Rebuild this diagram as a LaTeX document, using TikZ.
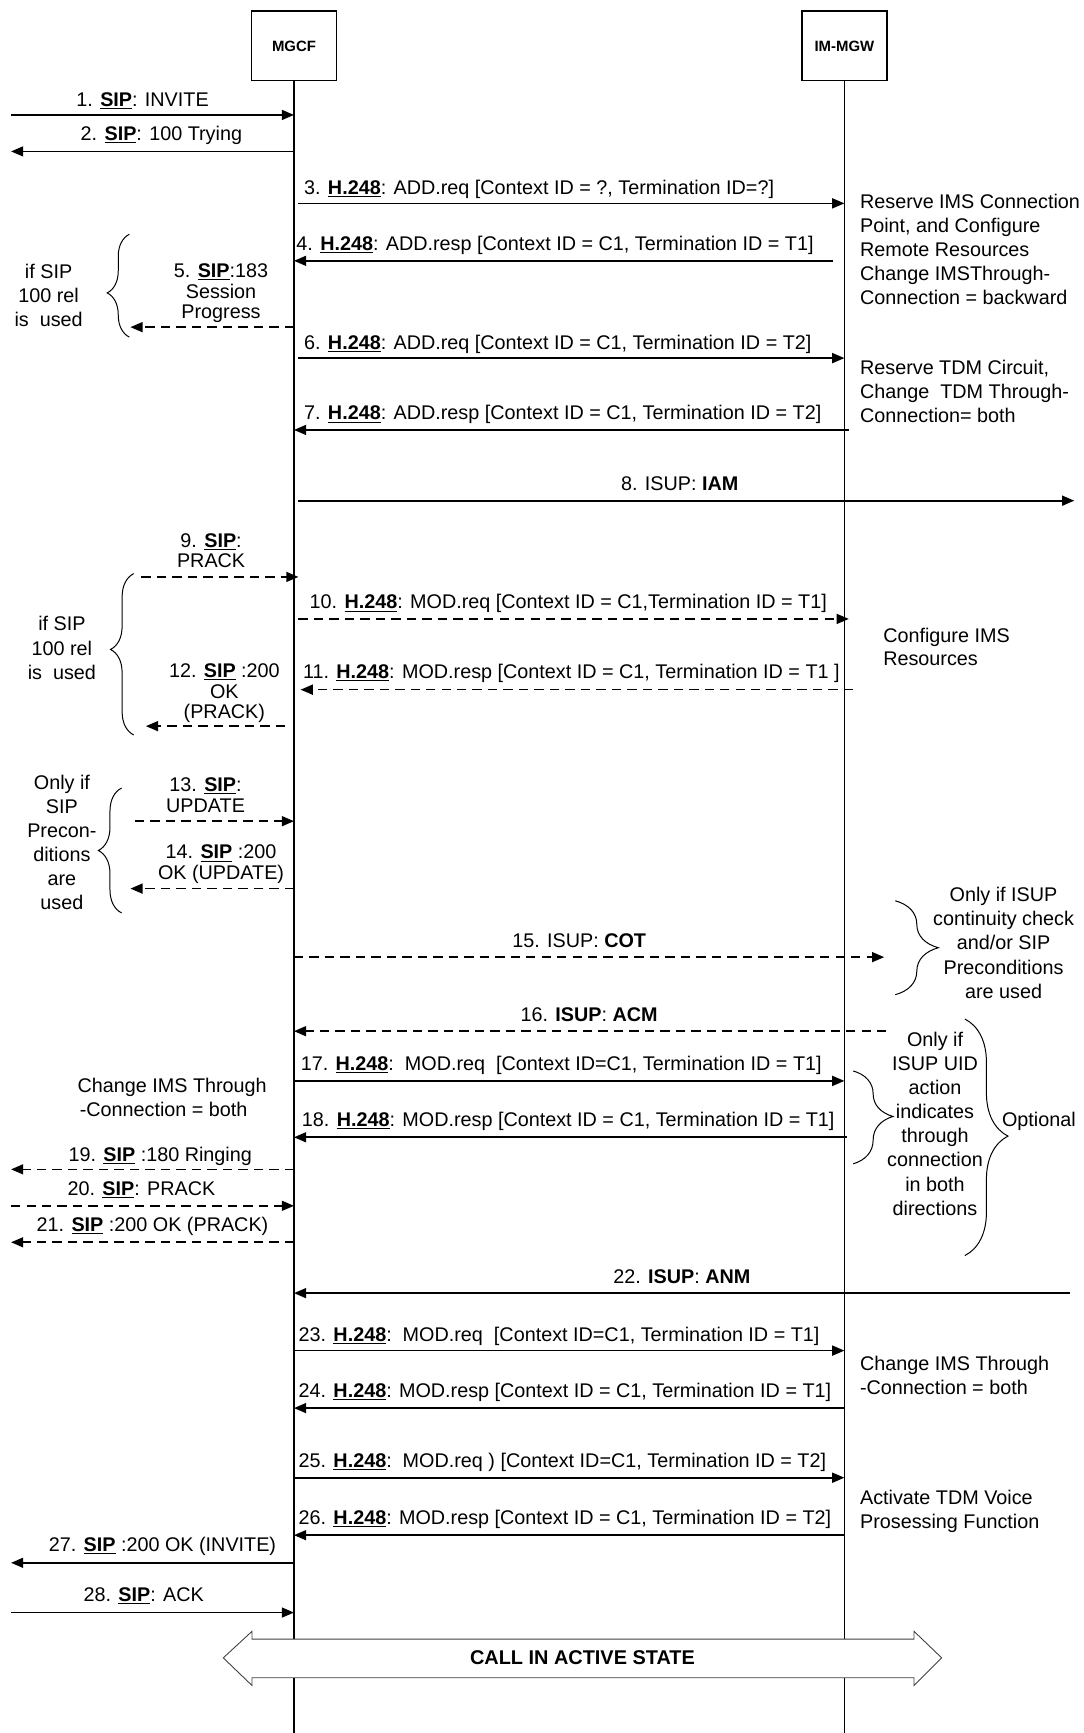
\documentclass[tikz,border=0pt]{standalone}
\usepackage{fontspec}
\setmainfont{Liberation Sans}
\usetikzlibrary{arrows.meta,decorations.pathreplacing}
\newcommand{\usip}{\underline{\textbf{SIP}}}
\newcommand{\uhh}{\underline{\textbf{H.248}}}
\begin{document}
\begin{tikzpicture}[x=1pt,y=-1pt,
  every node/.style={inner sep=0pt, font=\fontsize{17.9}{18.5}\selectfont},
  box/.style={draw, line width=1.4pt, minimum width=77pt, minimum height=63pt, font=\fontsize{13.5}{15}\selectfont\bfseries},
  life/.style={line width=1.6pt},
  msg/.style={line width=1.5pt, -{Triangle[length=11pt,width=9pt]}},
  dmsg/.style={msg, dash pattern=on 8.5pt off 5.5pt},
  lbl/.style={align=center, anchor=north},
  hlbl/.style={anchor=base west},
  clbl/.style={anchor=base},
  note/.style={align=left, anchor=north west, font=\fontsize{17.9}{21.7}\selectfont},
  cnote/.style={align=center, anchor=north, font=\fontsize{17.9}{21.8}\selectfont},
  brc/.style={decorate, line width=0.9pt},
]
\useasboundingbox (0,0) rectangle (980,1568);
\fill[white] (0,0) rectangle (980,1568);

% entities
\node[box] (mgcf) at (266,41.5) {MGCF};
\node[box] (mgw) at (764,41.5) {IM-MGW};
\draw[life] (mgcf.south) -- (mgcf.south |- 0,1568);
\draw[life] (mgw.south) -- (mgw.south |- 0,1568);

% 1
\coordinate (e1) at (10,104);
\draw[msg] (e1) -- (mgcf |- e1);
\node[clbl] (t1) at (129,96) {1. \usip: INVITE};
% 2
\coordinate (e2) at (10,137);
\draw[msg] (mgcf |- e2) -- (e2);
\node[clbl] (t2) at (146,127) {2. \usip: 100 Trying};
% 3
\coordinate (s3) at (270,184);
\draw[msg] (s3) -- (mgw |- s3);
\node[hlbl] (t3) at (275,176) {3. \uhh: ADD.req [Context ID = ?, Termination ID=?]};
% 4
\coordinate (s4) at (754,236);
\draw[msg] (s4) -- (mgcf |- s4);
\node[hlbl] (t4) at (268,227) {4. \uhh: ADD.resp [Context ID = C1, Termination ID = T1]};
% 5
\coordinate (e5) at (118,296);
\draw[dmsg] (mgcf |- e5) -- (e5);
\node[lbl] (t5) at (200,238.5) {5. \usip:183\\Session\\Progress};
% 6
\coordinate (s6) at (270,324);
\draw[msg] (s6) -- (mgw |- s6);
\node[hlbl] (t6) at (275,316) {6. \uhh: ADD.req [Context ID = C1, Termination ID = T2]};
% 7
\coordinate (s7) at (768,389);
\draw[msg] (s7) -- (mgcf |- s7);
\node[hlbl] (t7) at (275,380) {7. \uhh: ADD.resp [Context ID = C1, Termination ID = T2]};
% 8
\coordinate (s8) at (270,453);
\coordinate (e8) at (972,453);
\draw[msg] (s8) -- (e8);
\node[clbl] (t8) at (615,444) {8. ISUP: \textbf{IAM}};
% 9
\coordinate (e9) at (128,522);
\coordinate (f9) at (270,522);
\draw[dmsg] (e9) -- (f9);
\node[lbl] (t9) at (191,482.5) {9. \usip:\\PRACK};
% 10
\coordinate (s10) at (270,560);
\coordinate (f10) at (768,560);
\draw[dmsg] (s10) -- (f10);
\node[hlbl] (t10) at (280,551) {10. \uhh: MOD.req [Context ID = C1,Termination ID = T1]};
% 11
\coordinate (s11) at (772,624);
\coordinate (f11) at (272,624);
\draw[dmsg] (s11) -- (f11);
\node[hlbl] (t11) at (274,614) {11. \uhh: MOD.resp [Context ID = C1, Termination ID = T1 ]};
% 12
\coordinate (s12) at (258,657);
\coordinate (e12) at (132,657);
\draw[dmsg] (s12) -- (e12);
\node[lbl] (t12) at (203,600.5) {12. \usip\ :200\\OK\\(PRACK)};
% 13
\coordinate (e13) at (122,743);
\draw[dmsg] (e13) -- (mgcf |- e13);
\node[lbl] (t13) at (186,703.5) {13. \usip:\\UPDATE};
% 14
\coordinate (e14) at (118,804);
\draw[dmsg] (mgcf |- e14) -- (e14);
\node[lbl] (t14) at (200,764.5) {14. \usip\ :200\\OK (UPDATE)};
% 15
\coordinate (e15) at (800,866);
\draw[dmsg] (mgcf |- e15) -- (e15);
\node[clbl] (t15) at (524,857) {15. ISUP: \textbf{COT}};
% 16
\coordinate (e16) at (802,933);
\draw[dmsg] (e16) -- (mgcf |- e16);
\node[clbl] (t16) at (533,924) {16. \textbf{ISUP}: \textbf{ACM}};
% 17
\coordinate (s17) at (266,978);
\draw[msg] (mgcf |- s17) -- (mgw |- s17);
\node[hlbl] (t17) at (272,969) {17. \uhh:\ \ MOD.req\ \ [Context ID=C1, Termination ID = T1]};
% 18
\coordinate (s18) at (766,1029);
\draw[msg] (s18) -- (mgcf |- s18);
\node[hlbl] (t18) at (273,1019) {18. \uhh: MOD.resp [Context ID = C1, Termination ID = T1]};
% 19
\coordinate (e19) at (10,1058);
\draw[dmsg] (mgcf |- e19) -- (e19);
\node[clbl] (t19) at (145,1051) {19. \usip\ :180 Ringing};
% 20
\coordinate (e20) at (10,1091);
\draw[dmsg] (e20) -- (mgcf |- e20);
\node[clbl] (t20) at (128,1082) {20. \usip: PRACK};
% 21
\coordinate (e21) at (10,1124);
\draw[dmsg] (mgcf |- e21) -- (e21);
\node[clbl] (t21) at (138,1114) {21. \usip\ :200 OK (PRACK)};
% 22
\coordinate (e22) at (968,1170);
\draw[msg] (e22) -- (mgcf |- e22);
\node[clbl] (t22) at (617,1161) {22. \textbf{ISUP}: \textbf{ANM}};
% 23
\coordinate (s23) at (266,1222);
\draw[msg] (mgcf |- s23) -- (mgw |- s23);
\node[hlbl] (t23) at (270,1214) {23. \uhh:\ \ MOD.req\ \ [Context ID=C1, Termination ID = T1]};
% 24
\coordinate (s24) at (764,1274);
\draw[msg] (mgw |- s24) -- (mgcf |- s24);
\node[hlbl] (t24) at (270,1264) {24. \uhh: MOD.resp [Context ID = C1, Termination ID = T1]};
% 25
\coordinate (s25) at (266,1337);
\draw[msg] (mgcf |- s25) -- (mgw |- s25);
\node[hlbl] (t25) at (270,1328) {25. \uhh:\ \ MOD.req ) [Context ID=C1, Termination ID = T2]};
% 26
\coordinate (s26) at (764,1389);
\draw[msg] (mgw |- s26) -- (mgcf |- s26);
\node[hlbl] (t26) at (270,1379) {26. \uhh: MOD.resp [Context ID = C1, Termination ID = T2]};
% 27
\coordinate (e27) at (10,1414);
\draw[msg] (mgcf |- e27) -- (e27);
\node[clbl] (t27) at (147,1404) {27. \usip\ :200 OK (INVITE)};
% 28
\coordinate (e28) at (10,1459);
\draw[msg] (e28) -- (mgcf |- e28);
\node[clbl] (t28) at (130,1449) {28. \usip: ACK};

% notes beside IM-MGW
\node[note] (n1) at (778,175.7) {Reserve IMS Connection\\Point, and Configure\\Remote Resources\\Change IMSThrough-\\Connection = backward};
\node[note] (n2) at (778,325.7) {Reserve TDM Circuit,\\Change\ \ TDM Through-\\Connection= both};
\node[note] (n3) at (799,567.7) {Configure IMS\\Resources};
\node[note] (n4) at (778,1226.7) {Change IMS Through\\-Connection = both};
\node[note] (n5) at (778,1347.7) {Activate TDM Voice\\Prosessing Function};
\node[note] (n6) at (70,975.7) {Change IMS Through\\\hspace{2pt}-Connection = both};

% condition notes
\node[cnote] (c1) at (44,238.7) {if SIP\\100 rel\\is\ \ used};
\node[cnote] (c2) at (56,557.7) {if SIP\\100 rel\\is\ \ used};
\node[cnote] (c3) at (56,700.7) {Only if\\SIP\\Precon-\\ditions\\are\\used};
\node[cnote] (c4) at (908,802.7) {Only if ISUP\\continuity check\\and/or SIP\\Preconditions\\are used};
\node[cnote] (c5) at (846,933.7) {Only if\\ISUP UID\\action\\indicates\\through\\connection\\in both\\directions};
\node[clbl] (c6) at (940,1019) {Optional};

% braces
\draw[brc, decoration={brace, amplitude=20pt, aspect=0.43}] (117,305) -- (117,212);
\draw[brc, decoration={brace, amplitude=21pt, aspect=0.53}] (121,665) -- (121,519);
\draw[brc, decoration={brace, amplitude=21pt, aspect=0.5}] (110,826) -- (110,713);
\draw[brc, decoration={brace, amplitude=39pt, aspect=0.5}] (810,815) -- (810,900);
\draw[brc, decoration={brace, amplitude=36pt, aspect=0.49}] (772,969) -- (772,1053);
\draw[brc, decoration={brace, amplitude=39pt, aspect=0.495}] (873,922) -- (873,1136);

% call in active state
\draw[line width=0.8pt, draw=black!75, fill=white] (202,1500) -- (228,1476) -- (228,1483) -- (827,1483) -- (827,1476) -- (852,1500) -- (827,1525) -- (827,1518) -- (228,1518) -- (228,1525) -- cycle;
\node[font=\fontsize{18}{20}\selectfont\bfseries] (active) at (527,1500) {CALL IN ACTIVE STATE};
\end{tikzpicture}
\end{document}
